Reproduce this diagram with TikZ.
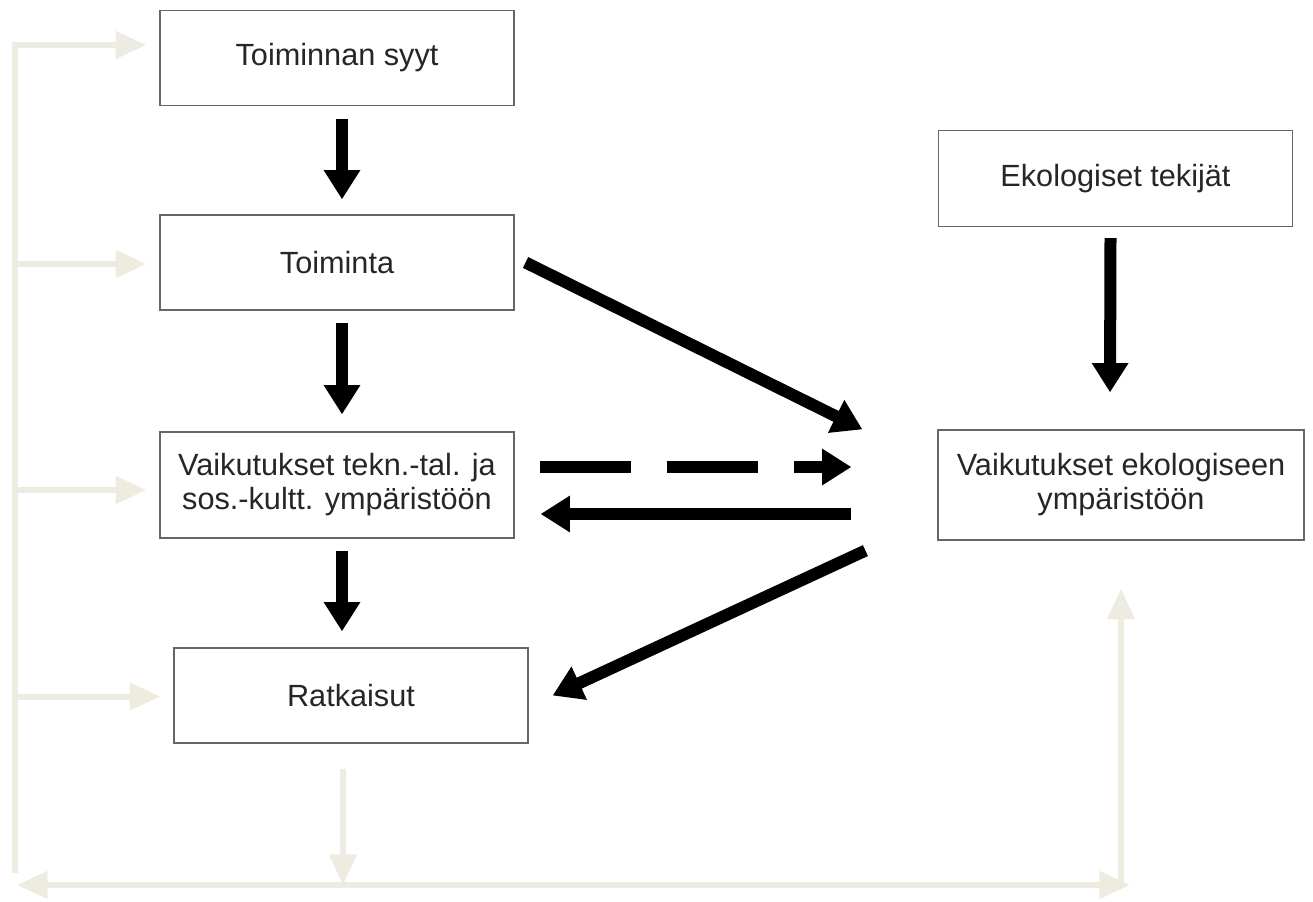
\documentclass[tikz,border=0pt]{standalone}
\usepackage{fontspec}
\setmainfont{Liberation Sans}
\usetikzlibrary{arrows.meta,calc}

\definecolor{beige}{RGB}{238,236,224}
\tikzset{every picture/.style={line width=0.75pt}}
\tikzset{
	flowbox/.style={draw=black!60, line width=0.9pt, fill=white, inner sep=0pt,
		minimum width=265.5pt, minimum height=71.25pt, align=center,
		font=\fontsize{23}{25.5}\selectfont, text=black!85},
	bigarrow/.style={line width=9pt, -{Triangle[width=26pt,length=22pt]}},
	softarrow/.style={draw=beige, line width=4.5pt, -{Triangle[width=20pt,length=23pt]}},
	softboth/.style={draw=beige, line width=4.5pt, {Triangle[width=20pt,length=23pt]}-{Triangle[width=20pt,length=23pt]}}
}

\begin{document}
\begin{tikzpicture}[x=0.75pt,y=0.75pt,yscale=-1,xscale=1]
	\useasboundingbox (0,0) rectangle (1313,902);

	% Text Node
	\node[flowbox] (syyt) at (337,58) {Toiminnan syyt};
	% Text Node
	\node[flowbox] (toiminta) at (337,262.5) {Toiminta};
	% Text Node
	\node[flowbox, minimum height=79.5pt] (tekn) at (337,485) {Vaikutukset tekn.-tal. ja\\sos.-kultt. ympäristöön};
	% Text Node
	\node[flowbox] (ratk) at (351,695.5) {Ratkaisut};
	% Text Node
	\node[flowbox, minimum height=72pt] (ekotek) at (1115.5,178.5) {Ekologiset tekijät};
	% Text Node
	\node[flowbox, minimum width=274.5pt, minimum height=82.5pt] (ekovaik) at (1121,485) {Vaikutukset ekologiseen\\ympäristöön};

	%Feedback lines
	\coordinate (runko) at (15,873);
	\coordinate (kisko) at (343,885);
	\coordinate (vasen) at (17,885);
	\coordinate (oikea) at (1130,885);
	\draw[softarrow, shorten >=9.75pt] (runko) |- ($(syyt.west)+(0,-13)$);
	\foreach \n/\dy in {toiminta/1.5, tekn/5, ratk/1}
	\draw[softarrow, shorten >=9.75pt] ($(runko |- \n.west)+(0,\dy)$) -- ($(\n.west)+(0,\dy)$);
	\draw[softarrow] ($(ratk.south)+(-8,25)$) -- (kisko);
	\draw[softboth] (vasen) -- (oikea);
	\draw[softarrow] (ekovaik.south |- oikea) -- ($(ekovaik.south)+(0,48)$);

	%Straight Lines
	\draw[bigarrow] ($(syyt.south)+(5,13)$) -- ($(toiminta.north)+(5,-15)$);
	\draw[bigarrow] ($(toiminta.south)+(5,12)$) -- ($(tekn.north)+(5,-17)$);
	\draw[bigarrow] ($(tekn.south)+(5,12)$) -- ($(ratk.north)+(-9,-16)$);
	\draw[bigarrow] ($(ekotek.south)+(-5,11)$) -- ($(ekovaik.north)+(-11,-37)$);
	\draw[bigarrow] ($(toiminta.east)+(11,0)$) -- ($(ekovaik.north west)+(-75,0)$);
	\draw[bigarrow, dash pattern=on 68.25pt off 27pt] ($(tekn.east)+(25,-18)$) -- ($(ekovaik.west)+(-86,-18)$);
	\draw[bigarrow] ($(ekovaik.west)+(-86,29)$) -- ($(tekn.east)+(26,29)$);
	\draw[bigarrow] ($(ekovaik.south west)+(-72,10)$) -- ($(ratk.east)+(24,0)$);

\end{tikzpicture}
\end{document}
